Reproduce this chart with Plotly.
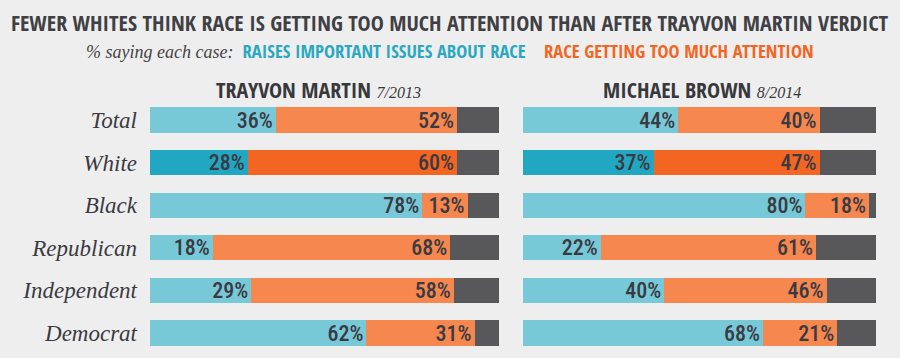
import plotly.graph_objects as go

groups = ["Total", "White", "Black", "Republican", "Independent", "Democrat"]
trayvon_raises = [36, 28, 78, 18, 29, 62]
trayvon_toomuch = [52, 60, 13, 68, 58, 31]
brown_raises = [44, 37, 80, 22, 40, 68]
brown_toomuch = [40, 47, 18, 61, 46, 21]
highlight = "White"

BLUE, BLUE_D = "#78c9d8", "#22a7c2"
ORANGE, ORANGE_D = "#f5874f", "#f26522"
GRAY = "#58585b"
TXT = "#3a3a42"
BG = "#eeeeee"
COND = "Roboto Condensed"
HEAD = "Open Sans Condensed"
SERIF = "Liberation Serif"

def colors(base, dark):
    return [dark if g == highlight else base for g in groups]

fig = go.Figure()
for raises, toomuch, xa, ya in [(trayvon_raises, trayvon_toomuch, "x", "y"),
                                (brown_raises, brown_toomuch, "x2", "y2")]:
    other = [100 - a - b for a, b in zip(raises, toomuch)]
    for vals, col, show in [(raises, colors(BLUE, BLUE_D), True),
                            (toomuch, colors(ORANGE, ORANGE_D), True),
                            (other, [GRAY] * len(groups), False)]:
        fig.add_trace(go.Bar(
            y=groups, x=vals, orientation="h", xaxis=xa, yaxis=ya,
            marker=dict(color=col, line=dict(width=0)),
            text=[f"{v}%" for v in vals] if show else None,
            textposition="inside" if show else "none",
            insidetextanchor="end",
            textfont=dict(family=COND, size=22, color=TXT, weight=500),
            constraintext="none",
            width=0.59, showlegend=False, hoverinfo="skip",
        ))

ydom = [0.0103, 0.7243]
fig.update_layout(
    width=900, height=358, barmode="stack",
    margin=dict(l=0, r=0, t=0, b=0),
    paper_bgcolor=BG, plot_bgcolor=BG,
    uniformtext=dict(mode=False),
    xaxis=dict(domain=[150/900, 499/900], range=[0, 100], visible=False, fixedrange=True),
    xaxis2=dict(domain=[523/900, 876/900], range=[0, 100], visible=False, fixedrange=True),
    yaxis=dict(domain=ydom, anchor="x", autorange="reversed", showgrid=False,
               zeroline=False, showline=False, ticks="", ticklabelstandoff=12,
               tickfont=dict(family=SERIF, size=23, color=TXT, style="italic"), fixedrange=True),
    yaxis2=dict(domain=ydom, anchor="x2", autorange="reversed", showticklabels=False,
                showgrid=False, zeroline=False, showline=False, fixedrange=True),
    font=dict(family=COND, color=TXT),
)

fig.add_annotation(x=0.5, y=1 - 22/358, xref="paper", yref="paper", xanchor="center", yanchor="middle",
                   showarrow=False, text="<b>FEWER WHITES THINK RACE IS GETTING TOO MUCH ATTENTION THAN AFTER TRAYVON MARTIN VERDICT</b>",
                   font=dict(family=HEAD, size=22, color="#404044"))
fig.add_annotation(x=450/900, y=1 - 50/358, xref="paper", yref="paper", xanchor="center", yanchor="middle",
                   showarrow=False,
                   text=("<span style='font-family:Liberation Serif;font-style:italic;font-size:18px;color:#444'>% saying each case:</span>"
                         "  <span style='color:#2aa8c0'><b>RAISES IMPORTANT ISSUES ABOUT RACE</b></span>"
                         "    <span style='color:#f26522'><b>RACE GETTING TOO MUCH ATTENTION</b></span>"),
                   font=dict(family=HEAD, size=18.5, color=TXT))
for cx, name, date in [(318/900, "TRAYVON MARTIN", "7/2013"), (702/900, "MICHAEL BROWN", "8/2014")]:
    fig.add_annotation(x=cx, y=1 - 89/358, xref="paper", yref="paper", xanchor="center", yanchor="middle",
                       showarrow=False,
                       text=f"<b>{name}</b> <span style='font-family:Liberation Serif;font-style:italic;font-size:16px'>{date}</span>",
                       font=dict(family=HEAD, size=22, color="#38383c"))

fig.write_html("out.html", config={"displayModeBar": False},
               post_script="document.body.style.margin='0';")
